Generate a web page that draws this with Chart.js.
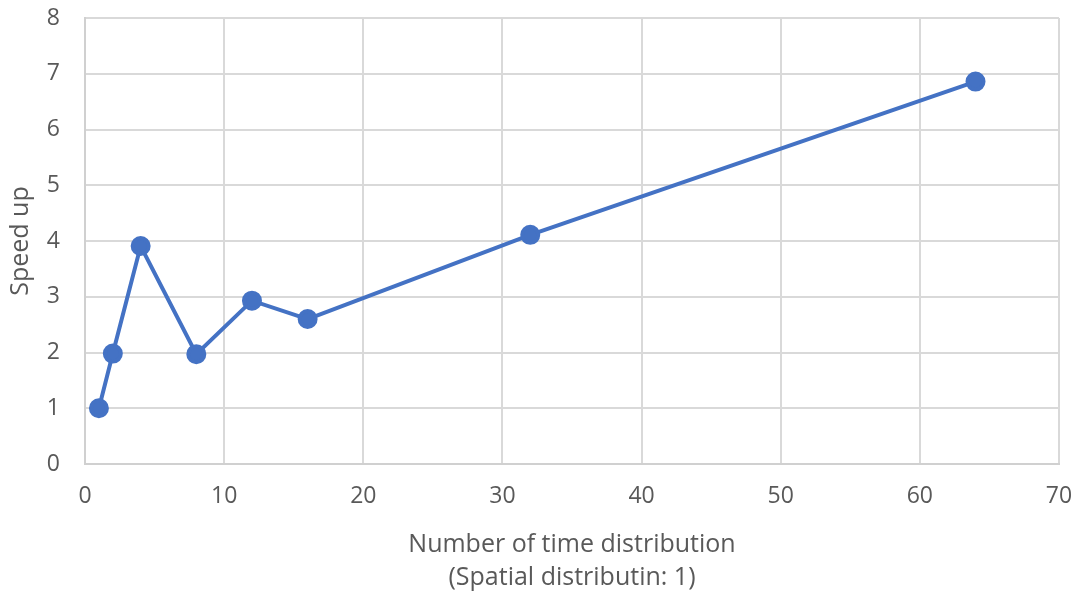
<!DOCTYPE html>
<html><head><meta charset="utf-8">
<script src="https://cdn.jsdelivr.net/npm/chart.js@4/dist/chart.umd.min.js"></script>
<style>html,body{margin:0;padding:0;background:#fff}#wrap{width:1079px;height:594px}</style>
</head><body><div id="wrap"><canvas id="c" width="1079" height="594"></canvas></div>
<script>
const timeDistribution = [1, 2, 4, 8, 12, 16, 32, 64];
const speedUp = [1.0, 1.98, 3.91, 1.97, 2.93, 2.60, 4.11, 6.86];
const xTitle = ["Number of time distribution", "(Spatial distributin: 1)"];
const yTitle = "Speed up";

const font = "'Open Sans', 'Liberation Sans', sans-serif";
new Chart(document.getElementById('c'), {
  type: 'scatter',
  data: { datasets: [{
    data: timeDistribution.map((x, i) => ({x: x, y: speedUp[i]})),
    showLine: true, borderColor: '#4472C4', backgroundColor: '#4472C4',
    borderWidth: 4, pointRadius: 8, pointHoverRadius: 8
  }]},
  options: {
    responsive: false, animation: false,
    layout: { padding: 0 },
    plugins: { legend: { display: false }, tooltip: { enabled: false } },
    scales: {
      x: { type: 'linear', min: 0, max: 70,
        afterFit: s => { s.paddingRight = 20; s.paddingLeft = 0; s.height = 130; },
        ticks: { stepSize: 10, color: '#595959', font: { family: font, size: 23, lineHeight: 1.2 }, padding: 19 },
        grid: { color: '#d9d9d9', lineWidth: 2, drawTicks: false },
        border: { color: '#d0d0d0', width: 2 },
        title: { display: true, text: xTitle, color: '#595959', font: { family: font, size: 25, lineHeight: 1.3 }, padding: { top: 1, bottom: 0 } } },
      y: { min: 0, max: 8,
        afterFit: s => { s.width = 85; s.paddingTop = 18; s.paddingBottom = 0; },
        ticks: { stepSize: 1, color: '#595959', font: { family: font, size: 23, lineHeight: 1.2 }, padding: 25 },
        grid: { color: '#d9d9d9', lineWidth: 2, drawTicks: false },
        border: { color: '#d0d0d0', width: 2 },
        title: { display: true, text: yTitle, color: '#595959', font: { family: font, size: 25, lineHeight: 1.2 }, padding: { top: 6, bottom: 0 } } }
    }
  }
});
</script></body></html>
